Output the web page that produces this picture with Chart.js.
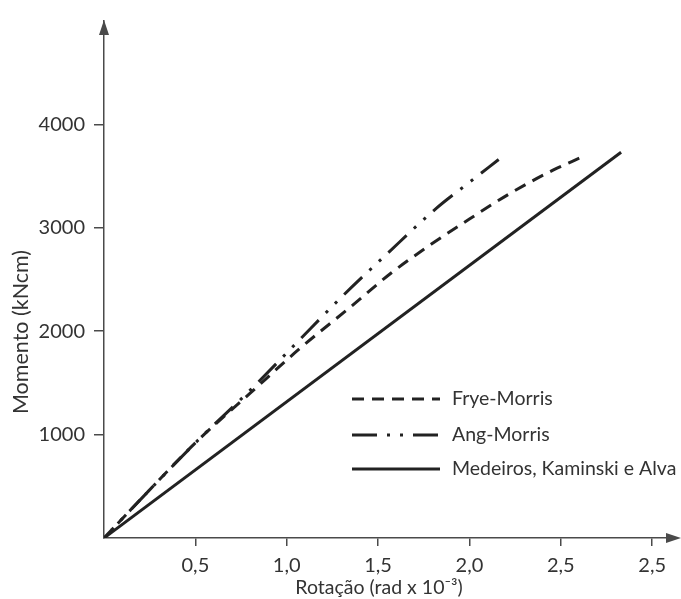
<!DOCTYPE html>
<html>
<head>
<meta charset="utf-8">
<script src="https://cdn.jsdelivr.net/npm/chart.js@4"></script>
<style>
  html, body { margin: 0; padding: 0; background: #fff; }
  #wrap { width: 681px; height: 599px; }
</style>
</head>
<body>
<div id="wrap"><canvas id="myChart" width="681" height="599"></canvas></div>
<script>
// rotation (rad x 10^-3) and moment (kNcm)
const rotFrye = [0, 0.15, 0.5, 0.8, 1.07, 1.36, 1.57, 1.79, 2.0, 2.22, 2.46, 2.61];
const momFrye = [0, 280, 920, 1400, 1830, 2250, 2560, 2840, 3085, 3330, 3560, 3680];
const rotAng = [0, 0.15, 0.5, 0.8, 1.05, 1.3, 1.55, 1.82, 2.0, 2.16];
const momAng = [0, 280, 920, 1430, 1880, 2330, 2750, 3190, 3440, 3660];
const rotMedeiros = [0, 2.83];
const momMedeiros = [0, 3730];

const xTickValues = [0.5, 1.0, 1.5, 2.0, 2.5, 3.0];
const xTickLabels = ["0,5", "1,0", "1,5", "2,0", "2,5", "2,5"];
const yTickValues = [1000, 2000, 3000, 4000];

const FONT = "Lato";
const ink = "#222";
const axisColor = "#4a4a4a";

const pts = (xs, ys) => xs.map((x, i) => ({ x: x, y: ys[i] }));

// axis arrows, axis titles and the legend inside the plot
const extras = {
  id: "extras",
  afterDraw(chart) {
    const c = chart.ctx;
    const a = chart.chartArea;
    c.save();
    c.fillStyle = axisColor;
    c.strokeStyle = axisColor;
    c.lineWidth = 1.5;
    // y arrow
    c.beginPath();
    c.moveTo(a.left, a.top - 1);
    c.lineTo(a.left - 5, a.top + 14);
    c.lineTo(a.left + 5, a.top + 14);
    c.closePath();
    c.fill();
    // x arrow
    c.beginPath();
    c.moveTo(a.right + 6, a.bottom);
    c.lineTo(a.right - 9, a.bottom - 5);
    c.lineTo(a.right - 9, a.bottom + 5);
    c.closePath();
    c.fill();

    // titles
    c.fillStyle = "#333";
    c.font = "19.5px " + FONT;
    c.textAlign = "center";
    c.textBaseline = "middle";
    c.fillText("Rotação (rad x 10\u207B\u00B3)", 379, 588);
    c.save();
    c.translate(21, 332);
    c.rotate(-Math.PI / 2);
    c.font = "21.5px " + FONT;
    c.fillText("Momento (kNcm)", 0, 0);
    c.restore();

    // legend
    const rows = [399, 435, 469];
    chart.data.datasets.forEach((ds, i) => {
      c.strokeStyle = ds.borderColor;
      c.lineWidth = ds.borderWidth;
      c.setLineDash(ds.borderDash || []);
      c.beginPath();
      c.moveTo(352, rows[i]);
      c.lineTo(440, rows[i]);
      c.stroke();
      c.setLineDash([]);
      c.fillStyle = "#333";
      c.textAlign = "left";
      c.font = "19.5px " + FONT;
      c.fillText(ds.label, 452, rows[i]);
    });
    c.restore();
  }
};

const ctx = document.getElementById("myChart").getContext("2d");
const myChart = new Chart(ctx, {
  type: "line",
  data: {
    datasets: [
      {
        label: "Frye-Morris",
        data: pts(rotFrye, momFrye),
        borderColor: ink,
        borderWidth: 3,
        borderDash: [12, 8],
        cubicInterpolationMode: "monotone",
        pointRadius: 0
      },
      {
        label: "Ang-Morris",
        data: pts(rotAng, momAng),
        borderColor: ink,
        borderWidth: 3,
        borderDash: [25, 10, 3, 10, 3, 10],
        borderDashOffset: 24,
        cubicInterpolationMode: "monotone",
        pointRadius: 0
      },
      {
        label: "Medeiros, Kaminski e Alva",
        data: pts(rotMedeiros, momMedeiros),
        borderColor: ink,
        borderWidth: 3,
        pointRadius: 0
      }
    ]
  },
  options: {
    responsive: false,
    animation: false,
    layout: { padding: { top: 15, right: 6, left: 0, bottom: 0 } },
    plugins: { legend: { display: false }, tooltip: { enabled: false } },
    scales: {
      x: {
        type: "linear",
        min: 0,
        max: 3.125,
        border: { display: true, color: axisColor, width: 1.5 },
        grid: { display: true, drawOnChartArea: false, drawTicks: true, tickLength: 8, tickColor: axisColor, lineWidth: 1.5 },
        afterBuildTicks: (s) => { s.ticks = xTickValues.map((v) => ({ value: v })); },
        afterFit: (s) => { s.height = 61; },
        ticks: {
          color: "#333",
          font: { family: FONT, size: 20 },
          padding: 8,
          maxRotation: 0,
          callback: (v, i) => xTickLabels[i]
        }
      },
      y: {
        min: 0,
        max: 5000,
        border: { display: true, color: axisColor, width: 1.5 },
        grid: { display: true, drawOnChartArea: false, drawTicks: true, tickLength: 10, tickColor: axisColor, lineWidth: 1.5 },
        afterBuildTicks: (s) => { s.ticks = yTickValues.map((v) => ({ value: v })); },
        afterFit: (s) => { s.width = 104; },
        ticks: {
          color: "#333",
          font: { family: FONT, size: 20 },
          padding: 9,
          callback: (v) => String(v)
        }
      }
    }
  },
  plugins: [extras]
});
</script>
</body>
</html>
